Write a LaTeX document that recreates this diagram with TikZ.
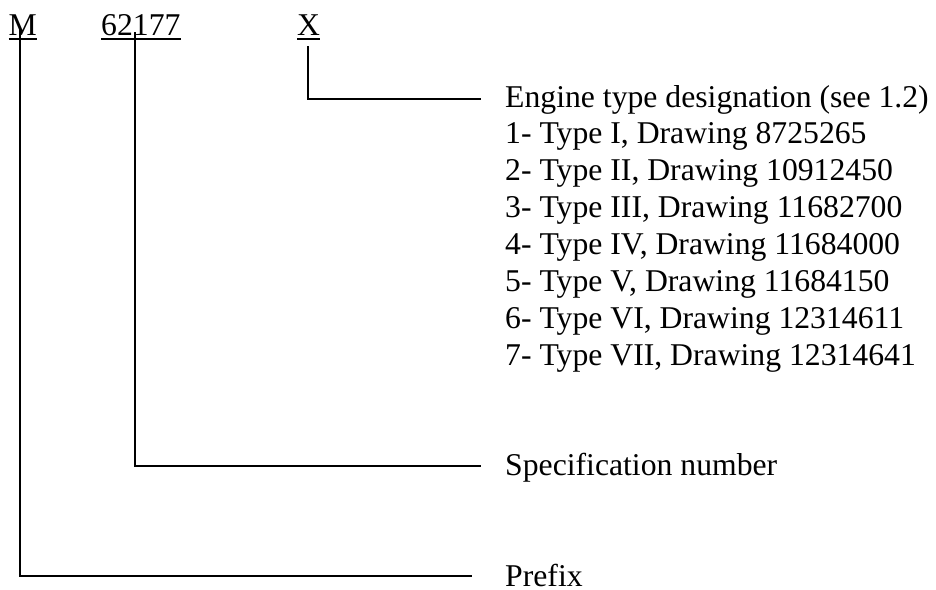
\documentclass[tikz,border=0pt]{standalone}
\usepackage{fontspec}
\setmainfont{Liberation Serif}
\begin{document}
\begin{tikzpicture}[x=1pt,y=-1pt,
  lbl/.style={inner sep=0pt, anchor=base west, font=\fontsize{31.7}{37}\selectfont},
  conn/.style={line width=1.8pt, black},
  uline/.style={line width=1.7pt, black}]
\path[use as bounding box] (0,0) rectangle (936,589);
% code letters
\node[lbl] (M) at (8.5,35) {M};
\node[lbl] (num) at (101,35) {62177};
\node[lbl] (X) at (297,35) {X};
\draw[uline] ([yshift=-4pt]M.base west) -- ([yshift=-4pt]M.base east);
\draw[uline] ([yshift=-4pt]num.base west) -- ([yshift=-4pt]num.base east);
\draw[uline] ([yshift=-4pt]X.base west) -- ([yshift=-4pt]X.base east);
% labels
\node[lbl] (eng) at (505,107) {Engine type designation (see 1.2)};
\node[lbl] (t1) at (505,143.9) {1- Type I, Drawing 8725265};
\node[lbl] (t2) at (505,180.8) {2- Type II, Drawing 10912450};
\node[lbl] (t3) at (505,217.7) {3- Type III, Drawing 11682700};
\node[lbl] (t4) at (505,254.6) {4- Type IV, Drawing 11684000};
\node[lbl] (t5) at (505,291.5) {5- Type V, Drawing 11684150};
\node[lbl] (t6) at (505,328.4) {6- Type VI, Drawing 12314611};
\node[lbl] (t7) at (505,365.3) {7- Type VII, Drawing 12314641};
\node[lbl] (specn) at (505,475) {Specification number};
\node[lbl] (prefix) at (505,586) {Prefix};
% connector ends
\coordinate (xtop) at (308,46);
\coordinate (xend) at (481,99);
\coordinate (ntop) at (135,32);
\coordinate (nend) at (481,466);
\coordinate (mtop) at (20,28);
\coordinate (mend) at (472,576);
\draw[conn] (xtop) |- (xend);
\draw[conn] (ntop) |- (nend);
\draw[conn] (mtop) |- (mend);
\end{tikzpicture}
\end{document}
